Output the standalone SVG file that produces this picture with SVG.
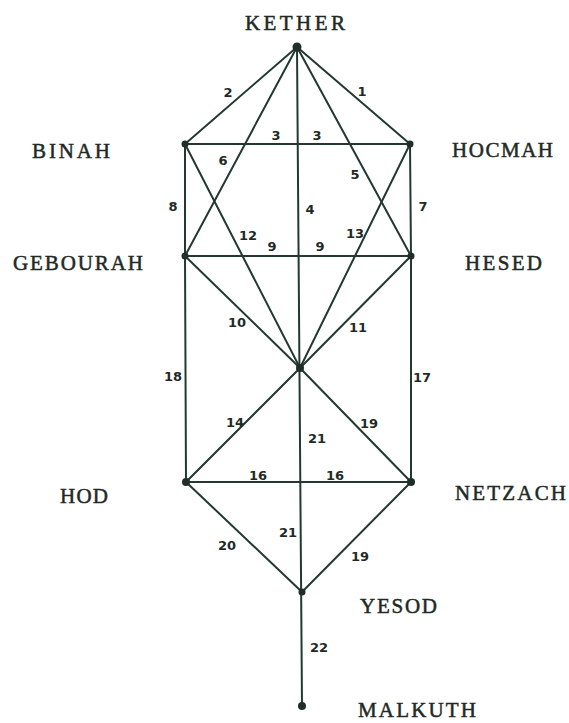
<svg xmlns="http://www.w3.org/2000/svg" width="569" height="723" viewBox="0 0 569 723">
<style>
.ln{stroke:#23392f;stroke-width:2;fill:none;stroke-linecap:round}
.dot{fill:#1f2f28}
.nm{font-family:"Liberation Serif",serif;font-size:21px;fill:#1f2a26;stroke:#1f2a26;stroke-width:0.5}
.num{font-family:"DejaVu Sans","Liberation Sans",sans-serif;font-size:13px;font-weight:bold;fill:#1f2a26;text-anchor:middle}
</style>
<rect width="569" height="723" fill="#ffffff"/>
<g id="connectors">
<line class="ln" x1="297" y1="47" x2="185" y2="144"/>
<line class="ln" x1="297" y1="47" x2="410" y2="144"/>
<line class="ln" x1="297" y1="47" x2="185" y2="256"/>
<line class="ln" x1="297" y1="47" x2="411" y2="256"/>
<line class="ln" x1="297" y1="47" x2="302" y2="706"/>
<line class="ln" x1="185" y1="144" x2="410" y2="144"/>
<line class="ln" x1="185" y1="144" x2="185" y2="256"/>
<line class="ln" x1="410" y1="144" x2="411" y2="256"/>
<line class="ln" x1="185" y1="144" x2="300" y2="368"/>
<line class="ln" x1="410" y1="144" x2="300" y2="368"/>
<line class="ln" x1="185" y1="256" x2="411" y2="256"/>
<line class="ln" x1="185" y1="256" x2="300" y2="368"/>
<line class="ln" x1="411" y1="256" x2="300" y2="368"/>
<line class="ln" x1="185" y1="256" x2="186" y2="482"/>
<line class="ln" x1="411" y1="256" x2="411" y2="482"/>
<line class="ln" x1="300" y1="368" x2="186" y2="482"/>
<line class="ln" x1="300" y1="368" x2="411" y2="482"/>
<line class="ln" x1="186" y1="482" x2="411" y2="482"/>
<line class="ln" x1="186" y1="482" x2="302" y2="592"/>
<line class="ln" x1="411" y1="482" x2="302" y2="592"/>
</g>
<g id="labels">
<text class="num" x="228" y="97">2</text>
<text class="num" x="362" y="96">1</text>
<text class="num" x="276" y="140">3</text>
<text class="num" x="317" y="140">3</text>
<text class="num" x="223" y="165">6</text>
<text class="num" x="355" y="179">5</text>
<text class="num" x="173" y="211">8</text>
<text class="num" x="310" y="214">4</text>
<text class="num" x="423" y="211">7</text>
<text class="num" x="248" y="240">12</text>
<text class="num" x="272" y="251">9</text>
<text class="num" x="320" y="251">9</text>
<text class="num" x="355" y="238">13</text>
<text class="num" x="237" y="327">10</text>
<text class="num" x="358" y="332">11</text>
<text class="num" x="173" y="381">18</text>
<text class="num" x="422" y="382">17</text>
<text class="num" x="235" y="427">14</text>
<text class="num" x="369" y="428">19</text>
<text class="num" x="317" y="443">21</text>
<text class="num" x="258" y="480">16</text>
<text class="num" x="335" y="480">16</text>
<text class="num" x="227" y="550">20</text>
<text class="num" x="288" y="537">21</text>
<text class="num" x="360" y="561">19</text>
<text class="num" x="319" y="652">22</text>
</g>
<g id="kether"><circle class="dot" cx="297" cy="47" r="4.5"/><text class="nm" x="245" y="30" textLength="100" lengthAdjust="spacing">KETHER</text></g>
<g id="binah"><circle class="dot" cx="185" cy="144" r="3.5"/><text class="nm" x="32" y="158" textLength="78" lengthAdjust="spacing">BINAH</text></g>
<g id="hocmah"><circle class="dot" cx="410" cy="144" r="3.5"/><text class="nm" x="452" y="157" textLength="101" lengthAdjust="spacing">HOCMAH</text></g>
<g id="gebourah"><circle class="dot" cx="185" cy="256" r="3.5"/><text class="nm" x="13" y="270" textLength="130" lengthAdjust="spacing">GEBOURAH</text></g>
<g id="hesed"><circle class="dot" cx="411" cy="256" r="3.5"/><text class="nm" x="465" y="270" textLength="77" lengthAdjust="spacing">HESED</text></g>
<g id="tiphereth"><circle class="dot" cx="300" cy="368" r="4"/></g>
<g id="hod"><circle class="dot" cx="186" cy="482" r="4"/><text class="nm" x="60" y="503" textLength="48" lengthAdjust="spacing">HOD</text></g>
<g id="netzach"><circle class="dot" cx="411" cy="482" r="4"/><text class="nm" x="455" y="500" textLength="111" lengthAdjust="spacing">NETZACH</text></g>
<g id="yesod"><circle class="dot" cx="302" cy="592" r="3.5"/><text class="nm" x="360" y="613" textLength="77" lengthAdjust="spacing">YESOD</text></g>
<g id="malkuth"><circle class="dot" cx="302" cy="706" r="4"/><text class="nm" x="358" y="717" font-size="19" textLength="118" lengthAdjust="spacing">MALKUTH</text></g>
</svg>
